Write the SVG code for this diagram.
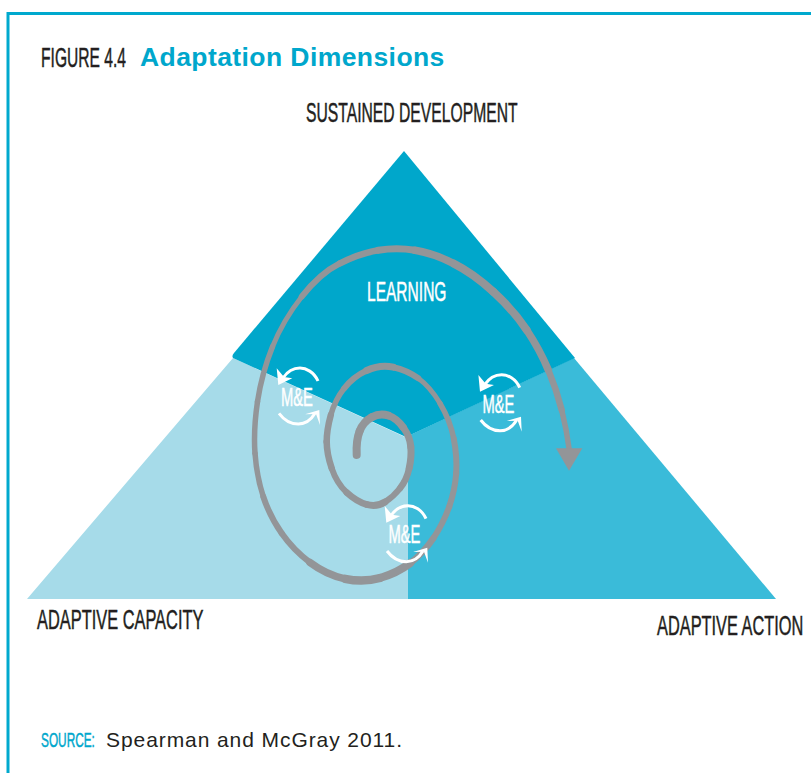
<svg xmlns="http://www.w3.org/2000/svg" width="811" height="773" viewBox="0 0 811 773">
<style>
.cond{font-family:"Liberation Sans",Arial,sans-serif;font-size:25px;fill:#231f20;stroke:#231f20;stroke-width:.45}
.w{fill:#fff;stroke:#fff;stroke-width:.45}
.sp path{fill:none;stroke:#939598;stroke-linecap:round}
.arc{fill:none;stroke:#fff;stroke-width:3;stroke-linecap:butt}
</style>
<defs>
<g id="cycle">
<path class="arc" d="M318 381C314 372 306 368 300 368C292 368 287 372 283 378"/>
<path fill="#fff" d="M276.700 368.300L278.300 385L292.300 378.300L284 377Z"/>
<path class="arc" d="M279 413.300C284 420 291 424 298.300 424C305 424 311 420 315 413.300"/>
<path fill="#fff" d="M305 414.300L319.300 410L320 425L316 414Z"/>
</g>
</defs>
<rect width="811" height="773" fill="#fff"/>
<path d="M8 773V13.500H811" fill="none" stroke="#00a9ce" stroke-width="3"/>
<g id="titles">
<text class="cond" transform="translate(41 66.500) scale(.625 1.08)">FIGURE 4.4</text>
<text x="140" y="66" font-family="Liberation Sans, Arial, sans-serif" font-size="26.500" font-weight="700" fill="#00a7cc" letter-spacing=".42">Adaptation Dimensions</text>
</g>
<g id="sector-capacity"><path d="M233 358L405 437L408 438V599H27Z" fill="#a6dbe9"/></g>
<g id="sector-action"><path d="M574 358L408 436V599H776Z" fill="#3abbd9"/></g>
<g id="sector-learning"><path d="M404 151L575 358L406 437L233 358Q231.500 356 234 353Z" fill="#00a7cb"/><text class="cond w" transform="translate(367 301) scale(.622 1.08)">LEARNING</text></g>
<g id="spiral" class="sp">
<path stroke-width="8" d="M356.700 455Q356 440 359.700 430.900"/>
<path stroke-width="8" d="M359.700 430.900Q363.300 421.700 371.700 417.200"/>
<path stroke-width="8" d="M371.700 417.200Q380 412.700 388.300 415.500"/>
<path stroke-width="7.500" d="M388.300 415.500Q396.700 418.300 403.300 427.500"/>
<path stroke-width="7" d="M403.300 427.500Q410 436.700 410.800 446.700"/>
<path stroke-width="7" d="M410.800 446.700Q411.700 456.700 409.200 468.300"/>
<path stroke-width="6.500" d="M409.200 468.300Q406.700 480 400 488.300"/>
<path stroke-width="6" d="M400 488.300Q393.300 496.700 385 502"/>
<path stroke-width="7" d="M385 502Q376.700 507.300 366.700 504.500"/>
<path stroke-width="6.500" d="M366.700 504.500Q356.700 501.700 346.700 492.500"/>
<path stroke-width="6" d="M346.700 492.500Q336.700 483.300 331.700 468.300"/>
<path stroke-width="6.500" d="M331.700 468.300Q326.700 453.300 326.700 441.700"/>
<path stroke-width="6.500" d="M326.700 441.700Q326.700 430 330.800 415"/>
<path stroke-width="5.500" d="M330.800 415Q335 400 344.200 388.300"/>
<path stroke-width="6" d="M344.200 388.300Q353.300 376.700 366.700 370.500"/>
<path stroke-width="7" d="M366.700 370.500Q380 364.300 393.300 367.200"/>
<path stroke-width="6" d="M393.300 367.200Q406.700 370 418.300 378.300"/>
<path stroke-width="5" d="M418.300 378.300Q430 386.700 440 403.300"/>
<path stroke-width="5.500" d="M440 403.300Q450 420 453.700 438.300"/>
<path stroke-width="6" d="M453.700 438.300Q457.300 456.700 456.200 473.300"/>
<path stroke-width="6" d="M456.200 473.300Q455 490 449.200 506.700"/>
<path stroke-width="6" d="M449.200 506.700Q443.300 523.300 433.300 538.300"/>
<path stroke-width="6.500" d="M433.300 538.300Q423.300 553.300 410 563.300"/>
<path stroke-width="8" d="M410 563.300Q396.700 573.300 380 578"/>
<path stroke-width="8.500" d="M380 578Q363.300 582.700 345 578.800"/>
<path stroke-width="7.500" d="M345 578.800Q326.700 575 310 562.500"/>
<path stroke-width="6" d="M310 562.500Q293.300 550 281.700 533.300"/>
<path stroke-width="6" d="M281.700 533.300Q270 516.700 263.300 496.700"/>
<path stroke-width="5.500" d="M263.300 496.700Q256.700 476.700 255 453.300"/>
<path stroke-width="5.500" d="M255 453.300Q253.300 430 257.500 401.700"/>
<path stroke-width="5.500" d="M257.500 401.700Q261.700 373.300 272.500 346.700"/>
<path stroke-width="5" d="M272.500 346.700Q283.300 320 301.700 296.700"/>
<path stroke-width="6" d="M301.700 296.700Q320 273.300 340 263.300"/>
<path stroke-width="6.500" d="M340 263.300Q360 253.300 378.300 250.300"/>
<path stroke-width="7" d="M378.300 250.300Q396.700 247.300 415 250.300"/>
<path stroke-width="7.500" d="M415 250.300Q433.300 253.300 453.300 263.300"/>
<path stroke-width="8" d="M453.300 263.300Q473.300 273.300 493.300 291.700"/>
<path stroke-width="8" d="M493.300 291.700Q513.300 310 526.700 330"/>
<path stroke-width="7.500" d="M526.700 330Q540 350 548.300 370"/>
<path stroke-width="6.500" d="M548.300 370Q556.700 390 561.700 410"/>
<path stroke-width="5.500" d="M561.700 410Q566.700 430 569.300 450"/>
<path style="fill:#939598;stroke:none" d="M556 448.300H582.300L569 470.700Z"/>
</g>
<g id="me-left"><use href="#cycle"/><text class="cond w" transform="translate(281 406) scale(.59 1.02)">M&amp;E</text></g>
<g id="me-right"><use href="#cycle" x="201.700" y="6.700"/><text class="cond w" transform="translate(482.500 412.500) scale(.59 1.02)">M&amp;E</text></g>
<g id="me-bottom"><use href="#cycle" x="108" y="137.700"/><text class="cond w" transform="translate(388.500 543) scale(.59 1.02)">M&amp;E</text></g>
<g id="labels">
<text class="cond" transform="translate(306 122) scale(.628 1.08)">SUSTAINED DEVELOPMENT</text>
<text class="cond" transform="translate(37 629) scale(.656 1.08)">ADAPTIVE CAPACITY</text>
<text class="cond" transform="translate(657 635) scale(.655 1.08)">ADAPTIVE ACTION</text>
</g>
<g id="source">
<text transform="translate(41 747) scale(.564 1)" font-family="Liberation Sans, Arial, sans-serif" font-size="21" fill="#00a7cc" stroke="#00a7cc" stroke-width=".5">SOURCE:</text>
<text x="106" y="747" font-family="Liberation Sans, Arial, sans-serif" font-size="21" fill="#231f20" letter-spacing=".92">Spearman and McGray 2011.</text>
</g>
</svg>
